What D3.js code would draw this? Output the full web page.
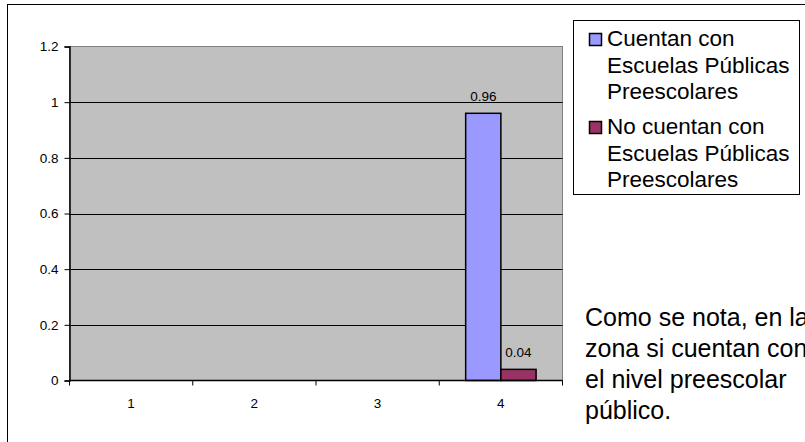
<!DOCTYPE html>
<html>
<head>
<meta charset="utf-8">
<script src="https://cdn.jsdelivr.net/npm/d3@7"></script>
<style>
html,body{margin:0;padding:0;background:#fff;overflow:hidden;}
svg{display:block;font-family:Arial,"Liberation Sans",sans-serif;}
</style>
</head>
<body>
<svg id="chart" width="805" height="442"></svg>
<script>
const categories = ["1", "2", "3", "4"];
const seriesNames = ["Cuentan con Escuelas Públicas Preescolares", "No cuentan con Escuelas Públicas Preescolares"];
const legendLines = [["Cuentan con", "Escuelas Públicas", "Preescolares"], ["No cuentan con", "Escuelas Públicas", "Preescolares"]];
const cuentan = [null, null, null, 0.96];
const noCuentan = [null, null, null, 0.04];
const yTicks = [0, 0.2, 0.4, 0.6, 0.8, 1, 1.2];
const seriesColors = ["#9999FF", "#993366"];
const noteLines = ["Como se nota, en la", "zona si cuentan con", "el nivel preescolar", "público."];

(function () {
const series = [cuentan, noCuentan];
const svg = d3.select("#chart");

// outer frame
svg.append("rect").attr("x", 7.5).attr("y", 4.5).attr("width", 820).attr("height", 460)
  .attr("fill", "#fff").attr("stroke", "#000").attr("stroke-width", 1);

const pLeft = 69.5, pRight = 562.5, pTop = 46.5, pBottom = 380.5;
const x = d3.scaleBand().domain(categories).range([pLeft, pRight]).paddingInner(0).paddingOuter(0);
const xs = d3.scaleBand().domain(d3.range(series.length)).range([0, x.bandwidth()]).paddingInner(0).paddingOuter(0.75);
const y = d3.scaleLinear().domain([0, 1.2]).range([pBottom, pTop]);

// plot background
svg.append("rect").attr("x", pLeft).attr("y", pTop).attr("width", pRight - pLeft).attr("height", pBottom - pTop)
  .attr("fill", "#C0C0C0").attr("stroke", "#808080").attr("stroke-width", 1);

// gridlines
svg.append("g").selectAll("line").data(yTicks.filter(t => t > 0 && t < 1.2)).join("line")
  .attr("x1", pLeft).attr("x2", pRight)
  .attr("y1", d => Math.round(y(d)) + 0.5).attr("y2", d => Math.round(y(d)) + 0.5)
  .attr("stroke", "#000").attr("stroke-width", 1);

// bars
series.forEach((vals, si) => {
  const g = svg.append("g");
  const data = categories.map((c, i) => ({c, v: vals[i]})).filter(d => d.v != null);
  g.selectAll("rect").data(data).join("rect")
    .attr("x", d => x(d.c) + xs(si))
    .attr("y", d => y(d.v))
    .attr("width", xs.bandwidth())
    .attr("height", d => y(0) - y(d.v))
    .attr("fill", seriesColors[si]).attr("stroke", "#000").attr("stroke-width", 1.5);
  g.selectAll("text").data(data).join("text")
    .attr("x", d => x(d.c) + xs(si) + xs.bandwidth() / 2)
    .attr("y", d => y(d.v) - 12)
    .attr("text-anchor", "middle").attr("font-size", 13.5).attr("fill", "#000")
    .text(d => String(d.v));
});

// y axis
const yAxis = d3.axisLeft(y).tickValues(yTicks).tickSize(5).tickPadding(6).tickFormat(d3.format("~g"));
const ya = svg.append("g").attr("transform", `translate(${pLeft},0)`).call(yAxis);
ya.select(".domain").attr("stroke", "#000").attr("stroke-width", 1.5);
ya.selectAll(".tick line").attr("stroke", "#000");
ya.selectAll("text").attr("font-size", 13.5).attr("font-family", "Arial, 'Liberation Sans', sans-serif").attr("fill", "#000");

// x axis
const xa = svg.append("g").attr("transform", `translate(0,${pBottom})`);
xa.append("line").attr("x1", pLeft).attr("x2", pRight).attr("y1", 0).attr("y2", 0).attr("stroke", "#000").attr("stroke-width", 1.5);
const bounds = categories.map(c => x(c)).concat([pRight]);
xa.selectAll("line.tk").data(bounds).join("line").attr("class", "tk")
  .attr("x1", d => d).attr("x2", d => d).attr("y1", 0).attr("y2", 5).attr("stroke", "#000");
xa.selectAll("text").data(categories).join("text")
  .attr("x", d => x(d) + x.bandwidth() / 2).attr("y", 27)
  .attr("text-anchor", "middle").attr("font-size", 13.5).attr("fill", "#000").text(d => d);

// legend
const lg = svg.append("g");
lg.append("rect").attr("x", 573.5).attr("y", 20.5).attr("width", 226).attr("height", 174)
  .attr("fill", "#fff").attr("stroke", "#000").attr("stroke-width", 1);
const lineH = 26.5;
const groupY = [46, 134];
legendLines.forEach((lines, si) => {
  const y0 = groupY[si];
  lg.append("rect").attr("x", 589.5).attr("y", y0 - 12.5).attr("width", 12).attr("height", 12)
    .attr("fill", seriesColors[si]).attr("stroke", "#000").attr("stroke-width", 1.5);
  lines.forEach((t, li) => {
    lg.append("text").attr("x", 607).attr("y", y0 + li * lineH)
      .attr("font-size", 22.5).attr("fill", "#000").text(t);
  });
});

// note
const ng = svg.append("g");
noteLines.forEach((t, i) => {
  ng.append("text").attr("x", 585).attr("y", 325.5 + i * 31.3)
    .attr("font-size", 25).attr("fill", "#000").text(t);
});
})();
</script>
</body>
</html>
